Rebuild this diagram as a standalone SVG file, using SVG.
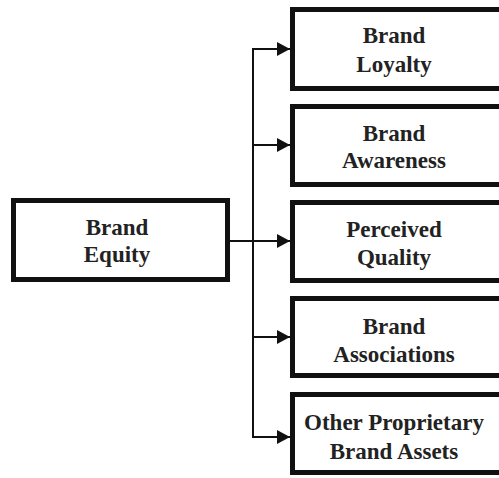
<svg xmlns="http://www.w3.org/2000/svg" width="499" height="478" viewBox="0 0 499 478">
<defs>
<marker id="ah" markerWidth="13" markerHeight="14" refX="13" refY="7" orient="auto" markerUnits="userSpaceOnUse">
<path d="M0,0 L13,7 L0,14 Z" fill="#111"/>
</marker>
<style>
.box{fill:#fff;stroke:#111;stroke-width:5}
.t{font-family:"Liberation Serif","Times New Roman",serif;font-weight:bold;font-size:23px;fill:#222;text-anchor:middle}
.c{stroke:#111;stroke-width:2;fill:none}
</style>
</defs>
<rect width="499" height="478" fill="#fff"/>
<g id="connectors">
<line class="c" x1="230" y1="241" x2="290" y2="241" marker-end="url(#ah)"/>
<line class="c" x1="253" y1="49" x2="253" y2="437"/>
<line class="c" x1="252" y1="49" x2="290" y2="49" marker-end="url(#ah)"/>
<line class="c" x1="252" y1="145" x2="290" y2="145" marker-end="url(#ah)"/>
<line class="c" x1="252" y1="337" x2="290" y2="337" marker-end="url(#ah)"/>
<line class="c" x1="252" y1="437" x2="290" y2="437" marker-end="url(#ah)"/>
</g>
<g id="brand-equity">
<rect class="box" x="13.5" y="200.5" width="214" height="79"/>
<text class="t" x="117" y="235">Brand</text>
<text class="t" x="117" y="262">Equity</text>
</g>
<g id="brand-loyalty">
<rect class="box" x="292.5" y="9.5" width="220" height="79"/>
<text class="t" x="394" y="43">Brand</text>
<text class="t" x="394" y="72">Loyalty</text>
</g>
<g id="brand-awareness">
<rect class="box" x="292.5" y="106.5" width="220" height="78"/>
<text class="t" x="394" y="141">Brand</text>
<text class="t" x="394" y="168">Awareness</text>
</g>
<g id="perceived-quality">
<rect class="box" x="292.5" y="202.5" width="220" height="78"/>
<text class="t" x="394" y="237">Perceived</text>
<text class="t" x="394" y="265">Quality</text>
</g>
<g id="brand-associations">
<rect class="box" x="292.5" y="298.5" width="220" height="77"/>
<text class="t" x="394" y="334">Brand</text>
<text class="t" x="394" y="362">Associations</text>
</g>
<g id="other-proprietary">
<rect class="box" x="292.5" y="394.5" width="220" height="78"/>
<text class="t" x="394" y="430">Other Proprietary</text>
<text class="t" x="394" y="459">Brand Assets</text>
</g>
</svg>
